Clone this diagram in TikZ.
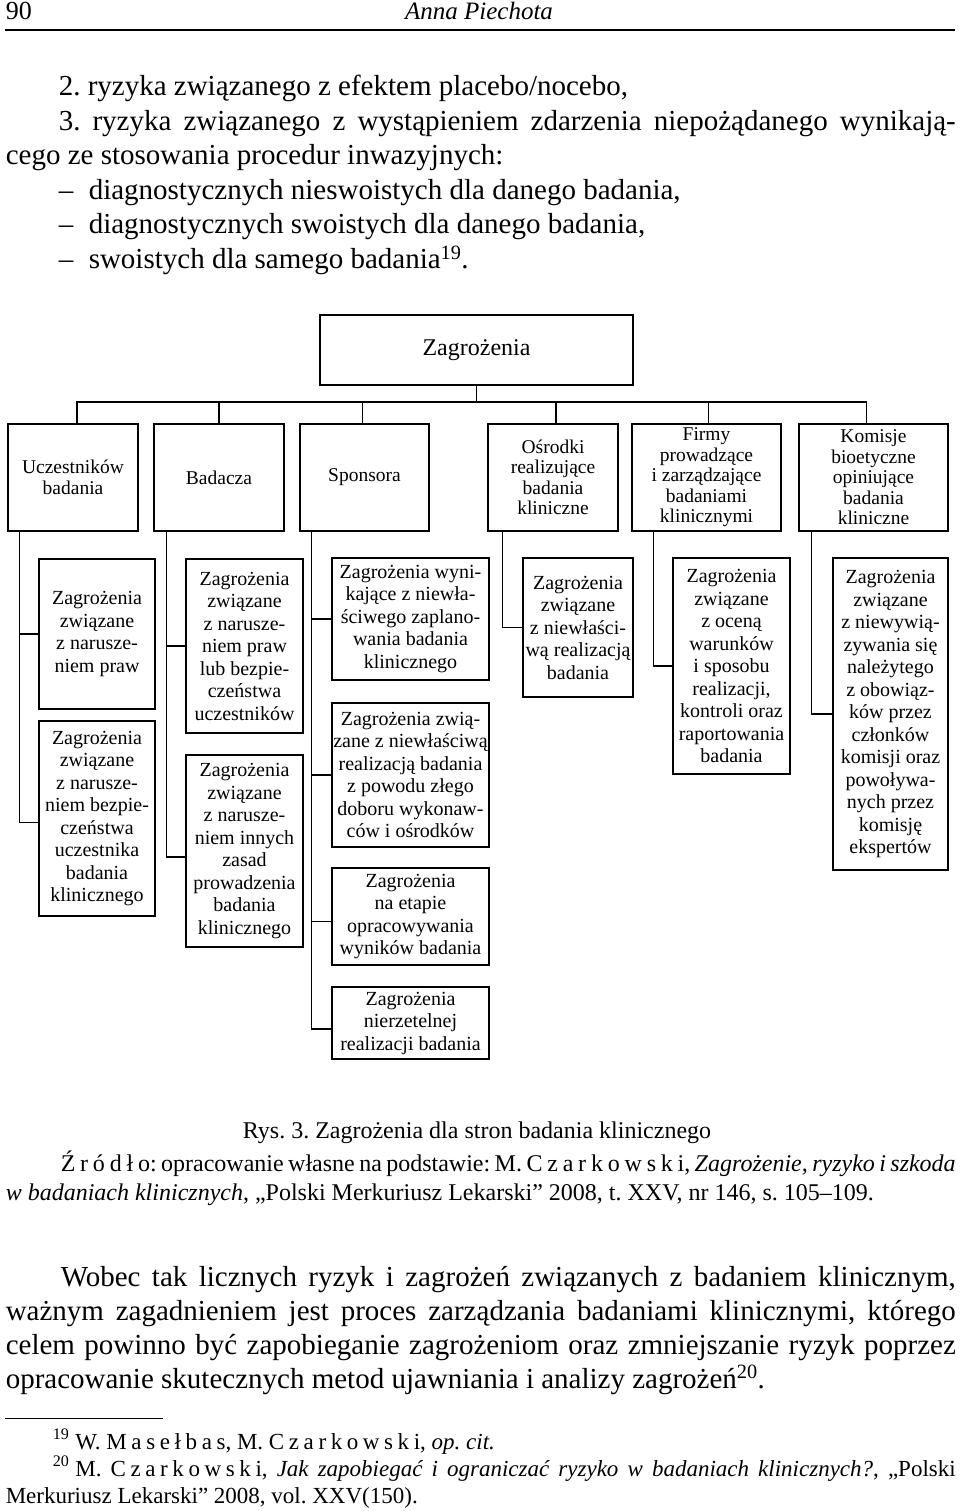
\documentclass[tikz,border=0pt]{standalone}
\usepackage{fontspec}
\setmainfont{Liberation Serif}
\usetikzlibrary{calc}
\frenchspacing

\def\spaced#1{\spacedstep#1\relax}
\def\spacedstep#1{\ifx#1\relax\else#1\kern.2em\expandafter\spacedstep\fi}

\begin{document}
\begin{tikzpicture}[x=1pt,y=-1pt,inner sep=0pt,line width=1.5pt,
  box/.style={draw,align=center,font=\fontsize{20}{22.5}\selectfont},
  side/.style={draw,align=center,font=\fontsize{19.5}{20.5}\selectfont,minimum height=107},
  txt/.style={anchor=base west,font=\fontsize{29}{34}\selectfont},
  small/.style={anchor=base west,font=\fontsize{24}{29}\selectfont},
  foot/.style={anchor=base west,font=\fontsize{23}{27}\selectfont}]
\useasboundingbox (0,0) rectangle (960,1511);

\node[anchor=base west,font=\fontsize{26}{28}\selectfont] (page) at (5,20) {90};
\node[anchor=base,font=\fontsize{25}{28}\selectfont\itshape] (author) at (479,20) {Anna Piechota};
\draw[line width=1.2pt] (5,30) -- (955,30);

\node[txt] (t1) at (58,96) {2. ryzyka związanego z efektem placebo/nocebo,};
\node[txt] (t2) at (58,131) {\makebox[897pt][s]{3. ryzyka związanego z wystąpieniem zdarzenia niepożądanego wynikają-}};
\node[txt] (t3) at (5,165) {cego ze stosowania procedur inwazyjnych:};
\node[txt] (d1) at (58,200) {–};
\node[txt] (t4) at (88,200) {diagnostycznych nieswoistych dla danego badania,};
\node[txt] (d2) at (58,234) {–};
\node[txt] (t5) at (88,234) {diagnostycznych swoistych dla danego badania,};
\node[txt] (d3) at (58,269) {–};
\node[txt] (t6) at (88,269) {swoistych dla samego badania\textsuperscript{19}.};

\node[draw,font=\fontsize{24}{28}\selectfont,minimum width=313,minimum height=70] (top) at (476.5,350) {Zagrożenia};

\node[side,minimum width=130] (b1) at (73,477.5) {Uczestników\\badania};
\node[side,minimum width=130] (b2) at (219,477.5) {Badacza};
\node[side,minimum width=129] (b3) at (364.5,477.5) {Sponsora};
\node[side,minimum width=130] (b4) at (553,477.5) {Ośrodki\\realizujące\\badania\\kliniczne};
\node[side,minimum width=149] (b5) at (706.5,477.5) {Firmy\\prowadzące\\i zarządzające\\badaniami\\klinicznymi};
\node[side,minimum width=149] (b6) at (873.5,477.5) {Komisje\\bioetyczne\\opiniujące\\badania\\kliniczne};

\node[box,minimum width=116,minimum height=150] (c11) at (97,634) {Zagrożenia\\związane\\z narusze-\\niem praw};
\node[box,minimum width=116,minimum height=195] (c12) at (97,818.5) {Zagrożenia\\związane\\z narusze-\\niem bezpie-\\czeństwa\\uczestnika\\badania\\klinicznego};
\node[box,minimum width=117,minimum height=174] (c21) at (244.5,646) {Zagrożenia\\związane\\z narusze-\\niem praw\\lub bezpie-\\czeństwa\\uczestników};
\node[box,minimum width=117,minimum height=192] (c22) at (244.5,851) {Zagrożenia\\związane\\z narusze-\\niem innych\\zasad\\prowadzenia\\badania\\klinicznego};
\node[box,minimum width=157,minimum height=122] (c31) at (410.5,619) {Zagrożenia wyni-\\kające z niewła-\\ściwego zaplano-\\wania badania\\klinicznego};
\node[box,minimum width=157,minimum height=144] (c32) at (410.5,775) {Zagrożenia zwią-\\zane z niewłaściwą\\realizacją badania\\z powodu złego\\doboru wykonaw-\\ców i ośrodków};
\node[box,minimum width=157,minimum height=97] (c33) at (410.5,916.5) {Zagrożenia\\na etapie\\opracowywania\\wyników badania};
\node[box,minimum width=157,minimum height=72] (c34) at (410.5,1023) {Zagrożenia\\nierzetelnej\\realizacji badania};
\node[box,minimum width=110,minimum height=139] (c41) at (578,627.5) {Zagrożenia\\związane\\z niewłaści-\\wą realizacją\\badania};
\node[box,minimum width=117,minimum height=216] (c51) at (731.5,666) {Zagrożenia\\związane\\z oceną\\warunków\\i sposobu\\realizacji,\\kontroli oraz\\raportowania\\badania};
\node[box,minimum width=115,minimum height=312] (c61) at (890.5,714) {Zagrożenia\\związane\\z niewywią-\\zywania się\\należytego\\z obowiąz-\\ków przez\\członków\\komisji oraz\\powoływa-\\nych przez\\komisję\\ekspertów};

\coordinate (bus) at ($(top.south)+(0,16)$);
\draw (top.south) -- (bus);
\foreach \n/\dx in {b1/4,b2/0,b3/-2,b4/3,b5/2,b6/-7}
  \draw ([xshift=\dx]\n.north) |- (bus);

\draw ([xshift=12]b1.south west) |- (c11.west) ([xshift=12]b1.south west) |- ([yshift=-4]c12.west);
\draw ([xshift=13]b2.south west) |- (c21.west) ([xshift=13]b2.south west) |- ([yshift=-6]c22.west);
\draw ([xshift=12]b3.south west) |- (c31.west) ([xshift=12]b3.south west) |- (c32.west)
  ([xshift=12]b3.south west) |- ([yshift=-5]c33.west) ([xshift=12]b3.south west) |- ([yshift=-6]c34.west);
\draw ([xshift=15]b4.south west) |- (c41.west);
\draw ([xshift=22]b5.south west) |- (c51.west);
\draw ([xshift=13]b6.south west) |- (c61.west);

\node[small,anchor=base] (caption) at (477,1138) {Rys. 3. Zagrożenia dla stron badania klinicznego};
\node[small] (src1) at (60,1171) {\makebox[895pt][s]{\spaced{Źródł}o: opracowanie własne na podstawie: M. \spaced{Czarkowsk}i, \textit{Zagrożenie, ryzyko i szkoda}}};
\node[small] (src2) at (5,1200) {\textit{w badaniach klinicznych}, „Polski Merkuriusz Lekarski” 2008, t. XXV, nr 146, s. 105–109.};

\node[txt] (p1) at (60,1286) {\makebox[895pt][s]{Wobec tak licznych ryzyk i zagrożeń związanych z badaniem klinicznym,}};
\node[txt] (p2) at (5,1320) {\makebox[950pt][s]{ważnym zagadnieniem jest proces zarządzania badaniami klinicznymi, którego}};
\node[txt] (p3) at (5,1354) {\makebox[950pt][s]{celem powinno być zapobieganie zagrożeniom oraz zmniejszanie ryzyk poprzez}};
\node[txt] (p4) at (5,1388) {opracowanie skutecznych metod ujawniania i analizy zagrożeń\textsuperscript{20}.};

\draw[line width=0.8pt] (5,1418) -- (163,1418);
\node[foot] (f1) at (52,1449) {\textsuperscript{19}\kern6pt W. \spaced{Masełba}s, M. \spaced{Czarkowsk}i, \textit{op. cit.}};
\node[foot] (f2) at (52,1476) {\makebox[903pt][s]{\textsuperscript{20}\kern6pt M. \spaced{Czarkowsk}i, \textit{Jak zapobiegać i ograniczać ryzyko w badaniach klinicznych?}, „Polski}};
\node[foot] (f3) at (5,1503) {Merkuriusz Lekarski” 2008, vol. XXV(150).};
\end{tikzpicture}
\end{document}
